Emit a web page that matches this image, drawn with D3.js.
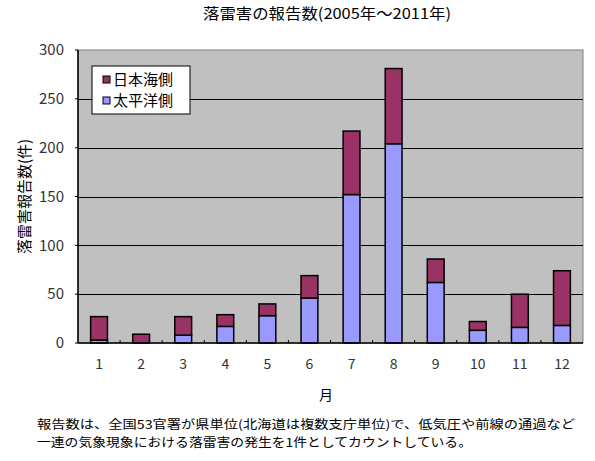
<!DOCTYPE html>
<html>
<head>
<meta charset="utf-8">
<script src="https://cdn.jsdelivr.net/npm/d3@7"></script>
<style>
  body { margin: 0; background: #fff; }
  text { font-family: "Noto Sans CJK JP", "DejaVu Sans", sans-serif; fill: #000; }
</style>
</head>
<body>
<div id="chart"></div>
<script>
// data
var months = ["1", "2", "3", "4", "5", "6", "7", "8", "9", "10", "11", "12"];
var pacific = [3, 0, 8, 17, 28, 46, 152, 204, 62, 13, 16, 18];   // 太平洋側
var japanSea = [24, 9, 19, 12, 12, 23, 65, 77, 24, 9, 34, 56];   // 日本海側
var yTicks = [0, 50, 100, 150, 200, 250, 300];
var seriesNames = ["日本海側", "太平洋側"];
var seriesColors = ["#993366", "#9999ff"];

var svgWidth = 595;
var svgHeight = 461;

var margin = { top: 50, right: 12, bottom: 118, left: 78 };
var width = svgWidth - margin.left - margin.right;
var height = svgHeight - margin.top - margin.bottom;

var svg = d3.select("#chart").append("svg")
  .attr("width", svgWidth)
  .attr("height", svgHeight);

var g = svg.append("g")
  .attr("transform", `translate(${margin.left}, ${margin.top})`);

// build stack table
var table = months.map(function(m, i) {
  return { month: m, pacific: pacific[i], japanSea: japanSea[i] };
});
var stacked = d3.stack().keys(["pacific", "japanSea"])(table);

var x = d3.scaleBand()
  .domain(months)
  .range([0, width])
  .paddingInner(0.6)
  .paddingOuter(0.3);

var y = d3.scaleLinear()
  .domain([0, 300])
  .range([height, 0]);

// plot background
g.append("rect")
  .attr("width", width)
  .attr("height", height)
  .attr("fill", "#c0c0c0")
  .attr("stroke", "#808080")
  .attr("stroke-width", 1);

// gridlines
g.append("g")
  .selectAll("line")
  .data(yTicks.slice(1, -1))
  .enter()
  .append("line")
  .attr("x1", 0)
  .attr("x2", width)
  .attr("y1", d => Math.round(y(d)) + 0.5)
  .attr("y2", d => Math.round(y(d)) + 0.5)
  .attr("stroke", "#000")
  .attr("stroke-width", 1);

// bars
var colorOf = { pacific: "#9999ff", japanSea: "#993366" };
g.selectAll("g.layer")
  .data(stacked)
  .enter()
  .append("g")
  .attr("class", "layer")
  .attr("fill", d => colorOf[d.key])
  .selectAll("rect")
  .data(d => d)
  .enter()
  .append("rect")
  .filter(d => d[1] - d[0] > 0)
  .attr("x", d => x(d.data.month))
  .attr("width", x.bandwidth())
  .attr("y", d => y(d[1]))
  .attr("height", d => y(d[0]) - y(d[1]))
  .attr("stroke", "#000")
  .attr("stroke-width", 1.5);

// x axis: line plus inside ticks between categories
var xAxis = g.append("g").attr("transform", `translate(0, ${height})`);
xAxis.append("line")
  .attr("x1", 0).attr("x2", width)
  .attr("stroke", "#000").attr("stroke-width", 1.5);
xAxis.selectAll("line.tick")
  .data(d3.range(1, months.length))
  .enter()
  .append("line")
  .attr("class", "tick")
  .attr("x1", d => d * width / months.length)
  .attr("x2", d => d * width / months.length)
  .attr("y1", 0).attr("y2", -3)
  .attr("stroke", "#000");
xAxis.selectAll("text")
  .data(months)
  .enter()
  .append("text")
  .attr("x", d => x(d) + x.bandwidth() / 2)
  .attr("y", 21)
  .attr("dy", "0.35em")
  .attr("text-anchor", "middle")
  .style("font-size", "14px")
  .style("fill", "#333")
  .text(d => d);

// y axis
var yAxis = g.append("g");
yAxis.append("line")
  .attr("y1", 0).attr("y2", height)
  .attr("stroke", "#000").attr("stroke-width", 1.5);
yAxis.selectAll("line.tick")
  .data(yTicks)
  .enter()
  .append("line")
  .attr("class", "tick")
  .attr("x1", -3).attr("x2", 0)
  .attr("y1", d => y(d)).attr("y2", d => y(d))
  .attr("stroke", "#000");
yAxis.selectAll("text")
  .data(yTicks)
  .enter()
  .append("text")
  .attr("x", -14)
  .attr("y", d => y(d))
  .attr("dy", "0.35em")
  .attr("text-anchor", "end")
  .style("font-size", "15px")
  .style("fill", "#333")
  .text(d => d);

// legend
var legend = g.append("g").attr("transform", "translate(14, 16)");
legend.append("rect")
  .attr("width", 98)
  .attr("height", 48)
  .attr("fill", "#fff")
  .attr("stroke", "#000");
seriesNames.forEach(function(name, i) {
  var row = legend.append("g").attr("transform", `translate(0, ${14 + i * 21})`);
  row.append("rect")
    .attr("x", 11).attr("y", -4)
    .attr("width", 7).attr("height", 7)
    .attr("fill", seriesColors[i])
    .attr("stroke", "#000");
  row.append("text")
    .attr("x", 21)
    .attr("y", 0)
    .attr("dy", "0.35em")
    .style("font-size", "15px")
    .text(name);
});

// titles
svg.append("text")
  .attr("x", 203)
  .attr("y", 14)
  .attr("dy", "0.35em")
  .attr("textLength", 248)
  .attr("lengthAdjust", "spacingAndGlyphs")
  .style("font-size", "15px")
  .text("落雷害の報告数(2005年～2011年)");

svg.append("text")
  .attr("transform", `translate(25, ${margin.top + height / 2}) rotate(-90)`)
  .attr("dy", "0.35em")
  .attr("text-anchor", "middle")
  .style("font-size", "15px")
  .text("落雷害報告数(件)");

svg.append("text")
  .attr("x", 326)
  .attr("y", 395)
  .attr("dy", "0.35em")
  .attr("text-anchor", "middle")
  .style("font-size", "14px")
  .text("月");

// footnote
var notes = [
  "報告数は、全国53官署が県単位(北海道は複数支庁単位)で、低気圧や前線の通過など",
  "一連の気象現象における落雷害の発生を1件としてカウントしている。"
];
var noteWidths = [538, 435];
svg.selectAll("text.note")
  .data(notes)
  .enter()
  .append("text")
  .attr("class", "note")
  .attr("x", 37)
  .attr("y", (d, i) => 425 + i * 18)
  .attr("dy", "0.35em")
  .attr("textLength", (d, i) => noteWidths[i])
  .attr("lengthAdjust", "spacingAndGlyphs")
  .style("font-size", "12px")
  .text(d => d);
</script>
</body>
</html>
